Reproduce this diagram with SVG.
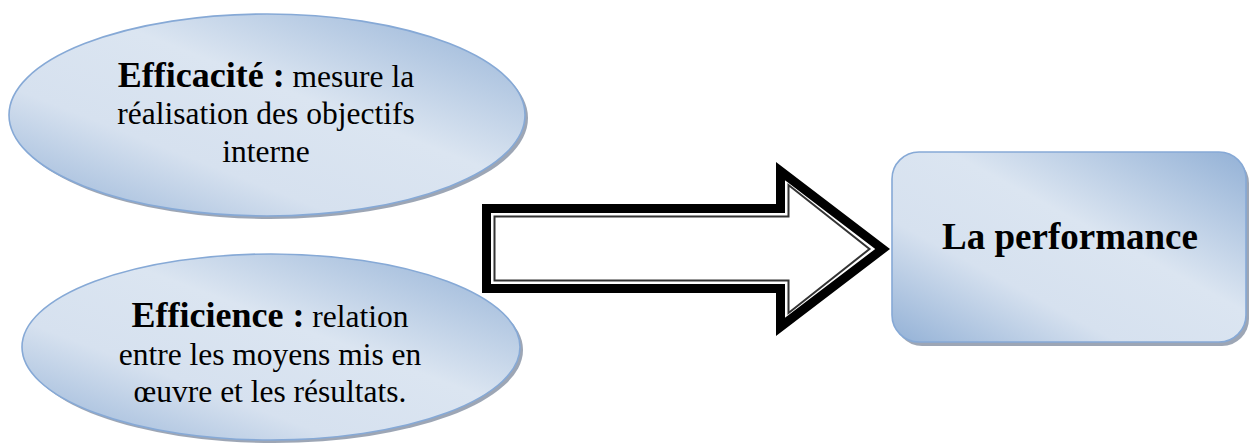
<svg xmlns="http://www.w3.org/2000/svg" width="1250" height="447" viewBox="0 0 1250 447">
  <defs>
    <linearGradient id="blueGrad" x1="1" y1="0" x2="0" y2="1">
      <stop offset="0" stop-color="#93b1d6"/>
      <stop offset="0.42" stop-color="#dbe5f1"/>
      <stop offset="0.68" stop-color="#d6e1ef"/>
      <stop offset="1" stop-color="#93b1d6"/>
    </linearGradient>
    <style>
      .shape { fill: url(#blueGrad); stroke: #86a9d6; stroke-width: 1.6; }
      .shadow { fill: #8c97a8; opacity: 0.85; }
      .txt { font-family: "Liberation Serif", "Times New Roman", serif; fill: #000; text-anchor: middle; }
      .b { font-weight: bold; font-size: 36px; }
      .r { font-weight: normal; font-size: 31.5px; }
      .big { font-weight: bold; font-size: 37px; }
    </style>
  </defs>
  <rect width="1250" height="447" fill="#ffffff"/>

  <g id="node-efficacite">
    <ellipse class="shadow" cx="270" cy="118" rx="258" ry="101"/>
    <ellipse class="shape" cx="267" cy="115" rx="258" ry="101"/>
    <text class="txt" x="266" y="87"><tspan class="b">Efficacité :</tspan><tspan class="r"> mesure la</tspan></text>
    <text class="txt r" x="266" y="124">réalisation des objectifs</text>
    <text class="txt r" x="266" y="162">interne</text>
  </g>

  <g id="node-efficience">
    <ellipse class="shadow" cx="274" cy="350" rx="249" ry="93"/>
    <ellipse class="shape" cx="271" cy="347" rx="249" ry="93"/>
    <text class="txt" x="270" y="327"><tspan class="b">Efficience :</tspan><tspan class="r"> relation</tspan></text>
    <text class="txt r" x="270" y="365">entre les moyens mis en</text>
    <text class="txt r" x="270" y="402">œuvre et les résultats.</text>
  </g>

  <g id="connectors">
    <polygon points="486.5,208.5 780.5,208.5 780.5,171.1 882.6,249 780.5,326.9 780.5,288.5 486.5,288.5" fill="#ffffff" stroke="#000000" stroke-width="9" stroke-linejoin="miter" stroke-miterlimit="10"/>
    <polygon points="494.5,216.5 788.5,216.5 788.5,185 869.5,249 788.5,313 788.5,280.5 494.5,280.5" fill="none" stroke="#333333" stroke-width="2" stroke-linejoin="miter" stroke-miterlimit="10"/>
  </g>

  <g id="node-performance">
    <rect class="shadow" x="895" y="156" width="354" height="190" rx="27" ry="27"/>
    <rect class="shape" x="892" y="152" width="354" height="190" rx="27" ry="27"/>
    <text class="txt big" x="1070" y="249">La performance</text>
  </g>
</svg>
